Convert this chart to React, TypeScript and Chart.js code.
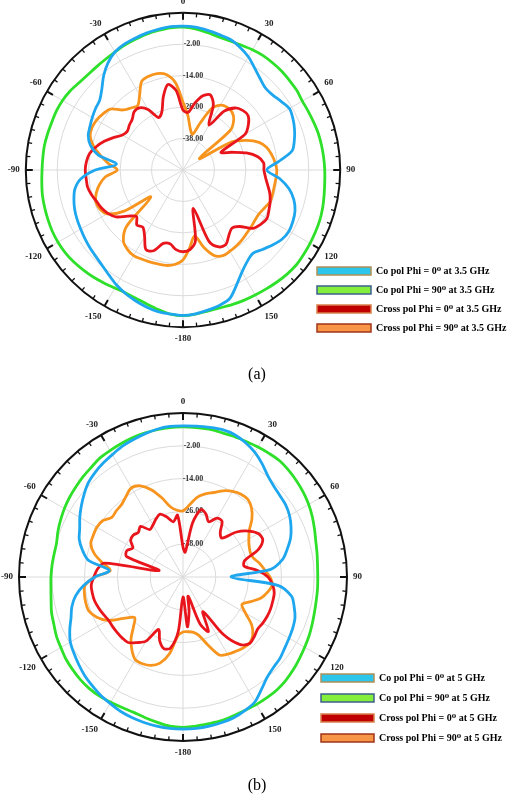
import React, { useEffect, useRef } from 'react';
import { Chart, registerables } from 'chart.js';

Chart.register(...registerables);

// ---------------- data ----------------
const ANGLES = [
  0, 5, 10, 15, 20, 25, 30, 35, 40, 45, 50, 55, 60, 65, 70, 75, 80, 85,
  90, 95, 100, 105, 110, 115, 120, 125, 130, 135, 140, 145, 150, 155, 160, 165, 170, 175,
  180, 185, 190, 195, 200, 205, 210, 215, 220, 225, 230, 235, 240, 245, 250, 255, 260, 265,
  270, 275, 280, 285, 290, 295, 300, 305, 310, 315, 320, 325, 330, 335, 340, 345, 350, 355,
];

const R_MIN = -50;
const R_MAX = 10;
const R_STEP = 12;
const TICK_VALUES = [-38, -26, -14, -2];

const NAMES_A = [
  'Co pol Phi = 0\u2070 at 3.5 GHz',
  'Co pol Phi = 90\u2070 at 3.5 GHz',
  'Cross pol Phi = 0\u2070 at 3.5 GHz',
  'Cross pol Phi = 90\u2070 at 3.5 GHz',
];
const NAMES_B = [
  'Co pol Phi = 0\u2070 at 5 GHz',
  'Co pol Phi = 90\u2070 at 5 GHz',
  'Cross pol Phi = 0\u2070 at 5 GHz',
  'Cross pol Phi = 90\u2070 at 5 GHz',
];

// (a) 3.5 GHz
const A_CO_PHI0 = [
  4.9, 4.7, 4.1, 3.5, 3.0, 1.6, -0.1, -2.4, -4.3, -5.6, -5.4, -4.3, -3.1, -3.7, -4.7, -6.0, -7.7, -13.4,
  -18.0, -13.0, -8.9, -6.2, -4.5, -3.7, -3.3, -3.9, -5.4, -7.1, -8.5, -7.3, -5.0, -1.6, 2.2, 3.5, 4.3, 5.1,
  5.5, 5.2, 4.9, 4.1, 3.1, 2.0, 0.7, -0.9, -2.2, -3.1, -3.7, -4.3, -4.9, -5.4, -6.0, -6.9, -8.1, -10.8,
  -16.5, -24.5, -17.2, -13.4, -11.5, -10.8, -10.0, -9.2, -8.5, -6.2, -2.9, -0.1, 2.0, 3.0, 3.5, 4.1, 4.5, 4.9,
];
const A_CO_PHI90 = [
  4.5, 4.1, 3.3, 2.6, 2.4, 2.6, 3.0, 3.3, 3.3, 3.3, 3.1, 3.0, 2.6, 2.8, 3.1, 3.5, 3.7, 3.9,
  4.1, 4.3, 4.7, 5.2, 5.6, 5.8, 6.0, 6.2, 6.4, 6.2, 5.8, 5.4, 5.1, 4.9, 4.7, 4.5, 4.7, 5.2,
  5.6, 5.2, 4.1, 3.0, 2.2, 1.8, 2.0, 2.6, 3.3, 3.9, 4.5, 4.9, 5.1, 5.1, 4.9, 4.7, 4.5, 4.1,
  3.8, 3.7, 3.7, 3.5, 3.3, 3.3, 3.1, 2.6, 1.8, 1.4, 1.4, 1.6, 2.0, 2.6, 3.1, 3.7, 4.1, 4.5,
];
const A_CROSS_PHI0 = [
  -27.1, -27.9, -24.1, -20.7, -19.5, -22.6, -30.2, -22.6, -19.1, -17.8, -17.6, -19.5, -22.6, -34.0, -30.2, -24.9, -21.0, -19.1,
  -19.1, -18.4, -17.2, -15.7, -14.6, -13.8, -13.0, -13.8, -15.3, -19.5, -21.0, -19.5, -17.2, -17.6, -21.0, -34.8, -22.6, -19.5,
  -18.8, -19.5, -21.4, -21.0, -17.2, -16.5, -20.7, -23.3, -22.6, -24.9, -22.6, -18.8, -16.9, -15.7, -14.9, -13.8, -13.0, -12.9,
  -12.7, -13.0, -13.8, -15.7, -18.0, -20.7, -23.3, -24.1, -23.3, -22.6, -21.0, -21.0, -23.3, -27.9, -26.4, -21.0, -16.9, -19.5,
];
const A_CROSS_PHI90 = [
  -24.1, -29.0, -34.0, -35.9, -31.0, -24.1, -21.4, -20.7, -21.0, -22.6, -26.4, -42.4, -28.7, -23.3, -19.1, -16.9, -15.7, -14.8,
  -14.2, -14.4, -14.6, -14.6, -14.6, -15.7, -16.5, -16.5, -16.1, -15.7, -15.1, -14.6, -14.2, -13.9, -15.3, -19.5, -24.5, -20.3,
  -15.7, -13.8, -13.0, -12.9, -12.7, -12.5, -12.3, -13.0, -14.6, -19.5, -34.0, -22.6, -16.5, -14.9, -14.6, -15.7, -17.6, -20.3,
  -24.9, -21.4, -18.0, -14.6, -12.3, -11.7, -11.9, -12.7, -13.8, -17.6, -19.1, -19.9, -16.9, -12.7, -11.9, -11.9, -13.0, -16.5,
];

// (b) 5 GHz
const B_CO_PHI0 = [
  5.3, 5.4, 5.6, 5.8, 5.4, 4.2, 2.6, 0.5, -1.7, -3.0, -3.7, -4.1, -5.0, -6.4, -8.1, -10.5, -13.0, -17.8,
  -32.4, -15.2, -9.7, -7.9, -6.4, -5.7, -5.2, -4.6, -3.7, -3.2, -2.1, 0.1, 2.7, 3.8, 4.7, 5.1, 5.4, 5.6,
  5.6, 5.6, 5.4, 5.1, 4.7, 4.2, 3.4, 2.7, 1.8, 0.9, -0.2, -1.3, -2.4, -4.3, -6.4, -7.9, -10.1, -13.4,
  -17.8, -22.9, -14.9, -11.9, -9.6, -8.3, -6.4, -4.6, -2.8, -1.1, 0.0, 0.9, 1.7, 2.7, 3.4, 4.2, 4.9, 5.3,
];
const B_CO_PHI90 = [
  4.9, 4.9, 4.9, 4.7, 4.7, 4.7, 4.9, 5.1, 5.3, 4.9, 4.4, 3.8, 3.1, 2.2, 1.2, 0.3, -0.2, -0.6,
  -0.7, -0.6, -0.5, -0.2, 0.3, 0.9, 1.4, 2.0, 2.7, 3.3, 3.7, 3.8, 3.8, 3.8, 4.0, 4.4, 4.5, 4.8,
  5.0, 4.8, 4.0, 3.3, 2.7, 2.7, 2.9, 3.2, 3.3, 3.1, 2.7, 2.3, 1.6, 1.1, 0.3, -0.2, -1.0, -1.5,
  -1.7, -1.9, -2.1, -2.1, -1.3, -0.6, 0.1, 0.7, 1.2, 1.8, 2.3, 3.1, 3.4, 3.8, 4.2, 4.5, 4.7, 4.9,
];
const B_CROSS_PHI0 = [
  -39.0, -40.9, -29.9, -24.4, -25.5, -27.7, -25.1, -25.1, -28.8, -29.9, -24.4, -20.7, -18.2, -17.8, -20.7, -26.6, -27.3, -22.6,
  -18.9, -17.1, -16.1, -16.0, -15.9, -16.0, -16.3, -16.7, -16.0, -15.6, -17.8, -24.4, -35.4, -28.0, -31.7, -42.7, -37.2, -31.7,
  -42.7, -29.9, -23.6, -22.9, -25.1, -28.8, -22.9, -20.7, -18.7, -18.5, -18.5, -18.5, -18.5, -17.8, -17.1, -16.5, -16.3, -16.3,
  -17.4, -18.5, -20.7, -40.9, -28.0, -27.3, -28.8, -26.6, -26.2, -26.9, -25.8, -28.8, -28.0, -26.6, -25.5, -27.3, -29.5, -27.3,
];
const B_CROSS_PHI90 = [
  -25.8, -23.6, -20.4, -18.5, -17.1, -15.2, -13.8, -13.0, -13.0, -14.5, -17.1, -20.4, -22.2, -23.3, -23.8, -23.3, -21.5, -20.0,
  -18.2, -17.2, -18.5, -20.4, -23.6, -26.2, -23.6, -19.3, -16.7, -15.6, -16.0, -16.7, -17.4, -18.5, -23.6, -28.0, -29.5, -29.9,
  -29.9, -28.4, -21.5, -17.4, -15.6, -15.0, -15.1, -17.4, -20.4, -24.4, -26.9, -23.6, -18.2, -15.2, -13.4, -13.2, -13.4, -14.0,
  -17.8, -23.3, -20.0, -16.3, -14.1, -13.8, -13.6, -14.1, -16.0, -15.6, -15.2, -13.8, -12.3, -13.2, -16.0, -20.0, -24.0, -25.5,
];

// ---------------- styles ----------------
const SERIF = "'Liberation Serif', 'Times New Roman', 'DejaVu Serif', serif";
const LINE_COLORS = ['#1ea6ee', '#2ee02a', '#e8161c', '#f7941e'];
const LEGEND_FILL = ['#2cc6ec', '#84ee3c', '#c00000', '#f79646'];
const LEGEND_STROKE = ['#b09058', '#3d5f8f', '#d8804c', '#a0351a'];

Chart.defaults.font.family = SERIF;

function angleLabel(deg: number): string {
  if (deg % 30 !== 0) return '';
  if (deg === 180) return '-180';
  return deg < 180 ? String(deg) : String(deg - 360);
}

function tickLabel(v: number): string {
  if (!TICK_VALUES.includes(v)) return '';
  const s = v.toFixed(2);
  return ' '.repeat(Math.round(s.length * 1.7)) + s;
}

const tickMarks = {
  id: 'tickMarks',
  afterDatasetsDraw(chart: any) {
    const s = chart.scales.r;
    const ctx = chart.ctx;
    const labels = chart.data.labels;
    ctx.save();
    ctx.strokeStyle = '#111';
    for (let i = 0; i < labels.length; i++) {
      const major = Number(labels[i]) % 30 === 0;
      const len = major ? 7 : 4;
      const p1 = s.getPointPosition(i, s.drawingArea);
      const p2 = s.getPointPosition(i, s.drawingArea - len);
      ctx.lineWidth = major ? 2 : 1.3;
      ctx.beginPath();
      ctx.moveTo(p1.x, p1.y);
      ctx.lineTo(p2.x, p2.y);
      ctx.stroke();
    }
    ctx.restore();
  },
};

const legendPlacer = {
  id: 'legendPlacer',
  afterLayout(chart: any, _args: any, opts: any) {
    const lg = chart.legend;
    if (!lg || opts == null || opts.x == null) return;
    lg.left = opts.x;
    lg.right = chart.width;
    lg.top = opts.y;
    lg.bottom = chart.height;
  },
};

function buildConfig(p: {
  names: string[];
  series: number[][];
  title: string;
  titlePad: { top: number; bottom: number };
  legendAt: { x: number; y: number };
  legendPad: number;
  boxWidth: number;
}): any {
  return {
    type: 'radar',
    data: {
      labels: ANGLES,
      datasets: p.names.map((name, i) => ({
        label: name,
        data: p.series[i],
        borderColor: LINE_COLORS[i],
        backgroundColor: LINE_COLORS[i],
        borderWidth: 2.8,
        pointRadius: 0,
        pointHoverRadius: 0,
        fill: false,
        tension: 0.3,
      })),
    },
    options: {
      responsive: false,
      animation: false,
      devicePixelRatio: 1,
      layout: { padding: 0 },
      scales: {
        r: {
          min: R_MIN,
          max: R_MAX,
          startAngle: 0,
          grid: {
            circular: true,
            color: (c: any) => (c.tick && c.tick.value === R_MAX ? '#111' : '#dadada'),
            lineWidth: (c: any) => (c.tick && c.tick.value === R_MAX ? 2 : 1),
          },
          angleLines: {
            display: true,
            color: '#dadada',
            lineWidth: (c: any) => (Number(ANGLES[c.index]) % 30 === 0 ? 1 : 0),
          },
          pointLabels: {
            display: true,
            padding: 2,
            color: '#222',
            font: { family: SERIF, size: 9, weight: 'bold', lineHeight: 1.2 },
            callback: (label: any) => angleLabel(Number(label)),
          },
          ticks: {
            stepSize: R_STEP,
            display: true,
            showLabelBackdrop: false,
            backdropPadding: 0,
            color: '#333',
            font: { family: SERIF, size: 8, weight: 'bold' },
            callback: (v: any) => tickLabel(Number(v)),
          },
        },
      },
      plugins: {
        tooltip: { enabled: false },
        legend: {
          display: true,
          position: 'right',
          align: 'start',
          maxWidth: 150,
          labels: {
            boxWidth: p.boxWidth,
            boxHeight: 8,
            padding: p.legendPad,
            color: '#111',
            font: { family: SERIF, size: 10, weight: 'bold' },
            generateLabels: (chart: any) =>
              chart.data.datasets.map((ds: any, i: number) => ({
                text: ds.label,
                fillStyle: LEGEND_FILL[i],
                strokeStyle: LEGEND_STROKE[i],
                lineWidth: 1.5,
                hidden: false,
                datasetIndex: i,
              })),
          },
        },
        title: {
          display: true,
          text: p.title,
          position: 'bottom',
          color: '#000',
          font: { family: SERIF, size: 16, weight: 'normal', lineHeight: 1.2 },
          padding: p.titlePad,
        },
        legendPlacer: p.legendAt,
      },
    },
    plugins: [tickMarks, legendPlacer],
  };
}

function PolarPanel(props: { cfg: any; width: number; height: number; left: number; top: number }) {
  const ref = useRef<HTMLCanvasElement | null>(null);
  useEffect(() => {
    if (!ref.current) return;
    const chart = new Chart(ref.current, props.cfg);
    return () => chart.destroy();
  }, []);
  return (
    <canvas
      ref={ref}
      width={props.width}
      height={props.height}
      style={{ position: 'absolute', left: props.left, top: props.top, width: props.width, height: props.height }}
    />
  );
}

export default function App() {
  const cfgA = buildConfig({
    names: NAMES_A,
    series: [A_CO_PHI0, A_CO_PHI90, A_CROSS_PHI0, A_CROSS_PHI90],
    title: '(a)',
    titlePad: { top: 20.4, bottom: 12.4 },
    legendAt: { x: 308, y: 260 },
    legendPad: 9,
    boxWidth: 54,
  });
  const cfgB = buildConfig({
    names: NAMES_B,
    series: [B_CO_PHI0, B_CO_PHI90, B_CROSS_PHI0, B_CROSS_PHI90],
    title: '(b)',
    titlePad: { top: 17.4, bottom: 3.4 },
    legendAt: { x: 311, y: 266 },
    legendPad: 10,
    boxWidth: 53,
  });
  return (
    <div style={{ position: 'absolute', left: 0, top: 0, width: 514, height: 799, background: '#fff', overflow: 'hidden' }}>
      <PolarPanel cfg={cfgA} width={514} height={400} left={0} top={-3} />
      <PolarPanel cfg={cfgB} width={514} height={402} left={0} top={397} />
    </div>
  );
}
